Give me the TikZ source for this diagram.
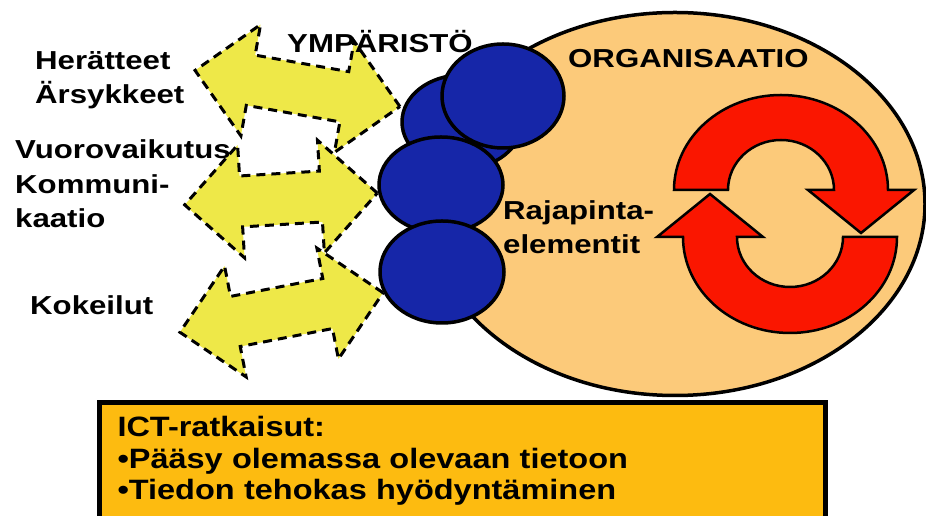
\documentclass[tikz,border=0pt]{standalone}
\usepackage{fontspec}
\usetikzlibrary{shapes.geometric,shapes.arrows}
\newfontfamily\lblfont[FakeStretch=1.2]{Liberation Sans}
\newfontfamily\boxfont[FakeStretch=1.16]{Liberation Sans}
\definecolor{orgfill}{RGB}{252,202,122}
\definecolor{blobblue}{RGB}{22,38,168}
\definecolor{arryellow}{RGB}{238,232,72}
\definecolor{cyclered}{RGB}{250,22,0}
\definecolor{ictfill}{RGB}{253,187,16}

\begin{document}
\begin{tikzpicture}[
x=1pt, y=1pt,
lbl/.style={anchor=base west, inner sep=0, align=left, font=\lblfont\bfseries\fontsize{26}{34.5}\selectfont},
blob/.style={draw, ellipse, line width=3.5pt, fill=blobblue, inner sep=0},
dblarr/.style={double arrow, draw, fill=arryellow, line width=3pt, dash pattern=on 9pt off 6pt, inner xsep=0, inner ysep=24pt, double arrow head extend=31pt, minimum width=110pt},
cyc/.style={draw, line width=2.5pt, fill=cyclered, line join=miter},
ictbox/.style={draw, line width=5pt, fill=ictfill, anchor=north west, inner xsep=18pt, inner ysep=14pt, text width=690pt, text depth=95pt, align=left, font=\boxfont\bfseries\fontsize{28}{31.5}\selectfont}
]
\useasboundingbox (0,0) rectangle (926,516);
\clip (0,0) rectangle (926,516);

% organisation
\node[draw, ellipse, line width=3.5pt, fill=orgfill, minimum width=500pt, minimum height=383pt] (org) at (675,312) {};

% exchange with the environment
\node[dblarr, minimum height=208pt, rotate=-10] (arrtop) at (297.5,427.5) {};
\node[dblarr, minimum height=193pt, rotate=3.5] (arrmid) at (281,317) {};
\node[dblarr, minimum height=207pt, rotate=11] (arrbot) at (281.5,203.5) {};

% interface elements
\node[blob, minimum width=120pt, minimum height=94pt] (ifback) at (462,394) {};
\node[blob, minimum width=122pt, minimum height=104pt] (iftop) at (503,420) {};
\node[blob, minimum width=124pt, minimum height=96pt] (ifmid) at (441,331) {};
\node[blob, minimum width=124pt, minimum height=102pt] (iflow) at (442,244) {};

% cycle
\draw[cyc] (674,326) arc[start angle=180, end angle=0, x radius=107, y radius=95]
  -- (914,326) -- (861,283) -- (808,326) -- (834,326)
  arc[start angle=0, end angle=180, x radius=53, y radius=50] -- cycle;
\draw[cyc] (897,279) arc[start angle=0, end angle=-180, x radius=107, y radius=96]
  -- (657,279) -- (710,322) -- (763,279) -- (737,279)
  arc[start angle=180, end angle=360, x radius=53, y radius=50] -- cycle;

% labels (base = last line)
\node[lbl] (herat) at (35,412) {Herätteet\\Ärsykkeet};
\node[lbl] (vuoro) at (15,288) {Vuorovaikutus\\Kommuni-\\kaatio};
\node[lbl] (kokei) at (30,201) {Kokeilut};
\node[lbl] (ymp) at (287,463) {YMPÄRISTÖ};
\node[lbl] (orglbl) at (568,448) {ORGANISAATIO};
\node[lbl] (raja) at (503,262) {Rajapinta-\\elementit};

\node[ictbox] (ict) at (97,116) {ICT-ratkaisut:\\•Pääsy olemassa olevaan tietoon\\•Tiedon tehokas hyödyntäminen};
\end{tikzpicture}
\end{document}
